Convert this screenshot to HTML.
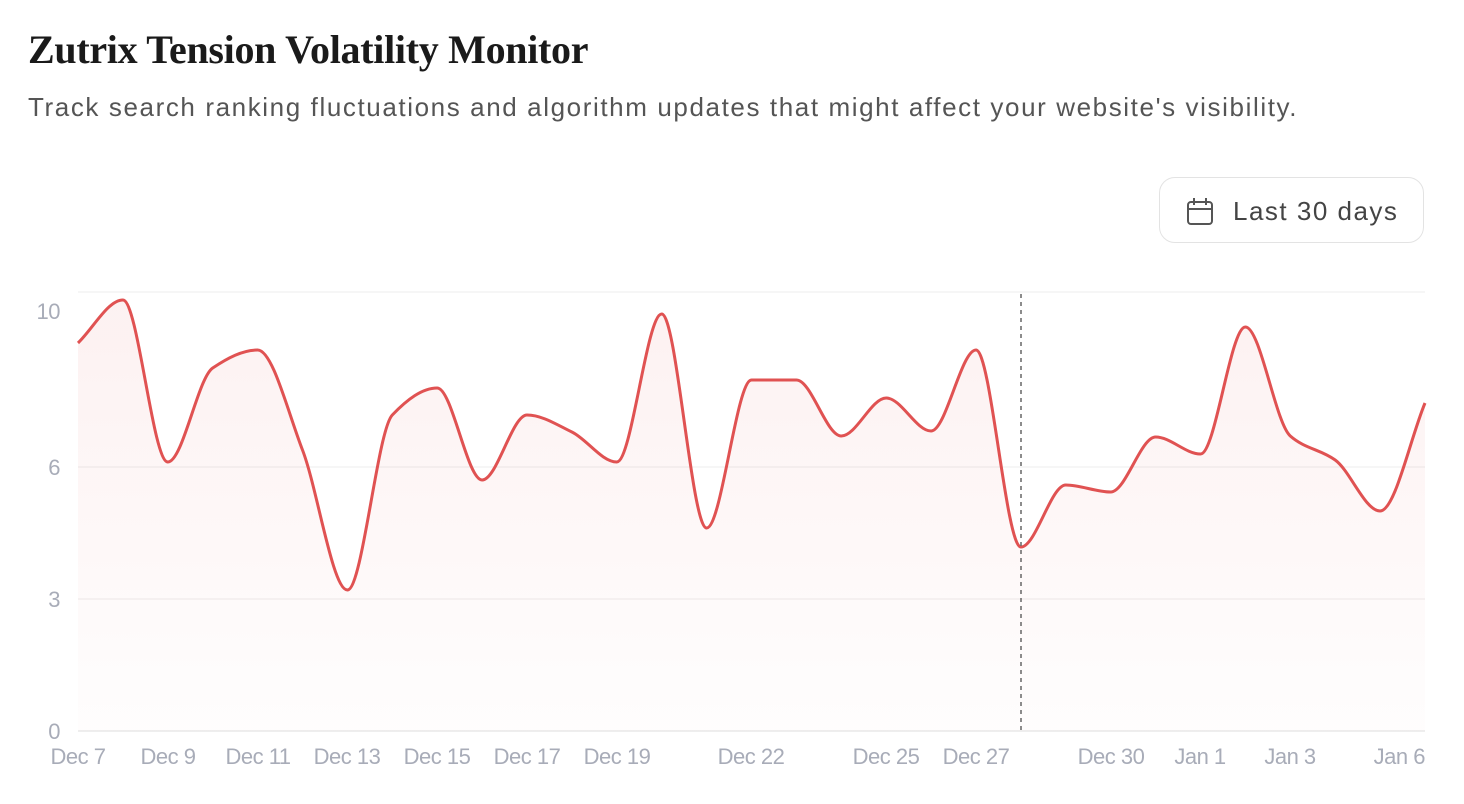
<!DOCTYPE html>
<html><head><meta charset="utf-8"><style>
html,body{margin:0;padding:0;background:#fff;width:1464px;height:804px;overflow:hidden}
.t{position:absolute;left:28px;top:26px;font-family:"Liberation Serif",serif;font-size:40px;font-weight:bold;color:#1a1a1a;letter-spacing:-0.3px}
.s{position:absolute;left:28px;top:92px;font-family:"Liberation Sans",sans-serif;font-size:26px;color:#555;letter-spacing:1.6px}
.b{position:absolute;left:1159px;top:177px;width:265px;height:66px;border:1.5px solid #e3e3e3;border-radius:16px;box-sizing:border-box;font-family:"Liberation Sans",sans-serif;font-size:26px;color:#444}
.b span{position:absolute;left:73px;top:18px;letter-spacing:1.5px}
svg{position:absolute;left:0;top:0}
</style></head><body>
<div class="t">Zutrix Tension Volatility Monitor</div>
<div class="s">Track search ranking fluctuations and algorithm updates that might affect your website's visibility.</div>
<div class="b"><svg width="30" height="30" style="left:25px;top:19px" viewBox="0 0 30 30"><rect x="3" y="5" width="24" height="22" rx="3" fill="none" stroke="#555" stroke-width="2"/><line x1="3" y1="12" x2="27" y2="12" stroke="#555" stroke-width="2"/><line x1="9" y1="1" x2="9" y2="8" stroke="#555" stroke-width="2"/><line x1="21" y1="1" x2="21" y2="8" stroke="#555" stroke-width="2"/></svg><span>Last 30 days</span></div>
<svg width="1464" height="804" id="c">
<defs><linearGradient id="g" x1="0" y1="0" x2="0" y2="1"><stop offset="0" stop-color="#e05252" stop-opacity="0.08"/><stop offset="1" stop-color="#e05252" stop-opacity="0.01"/></linearGradient></defs>
<g stroke="#ececec" stroke-width="1"><line x1="78" x2="1425" y1="292" y2="292"/><line x1="78" x2="1425" y1="467" y2="467"/><line x1="78" x2="1425" y1="599" y2="599"/><line x1="78" x2="1425" y1="731" y2="731" stroke="#ddd"/></g>
<g font-family="Liberation Sans,sans-serif" font-size="22" fill="#a8acb8" letter-spacing="-0.5">
<text x="60" y="319" text-anchor="end">10</text><text x="60" y="475" text-anchor="end">6</text><text x="60" y="607" text-anchor="end">3</text><text x="60" y="739" text-anchor="end">0</text>
<g text-anchor="middle"><text x="78" y="764">Dec 7</text><text x="168" y="764">Dec 9</text><text x="258" y="764">Dec 11</text><text x="347" y="764">Dec 13</text><text x="437" y="764">Dec 15</text><text x="527" y="764">Dec 17</text><text x="617" y="764">Dec 19</text><text x="751" y="764">Dec 22</text><text x="886" y="764">Dec 25</text><text x="976" y="764">Dec 27</text><text x="1111" y="764">Dec 30</text><text x="1200" y="764">Jan 1</text><text x="1290" y="764">Jan 3</text></g>
<text x="1425" y="764" text-anchor="end">Jan 6</text></g>
<path id="a" fill="url(#g)"/>
<path id="l" fill="none" stroke="#e05252" stroke-width="3"/>
<line x1="1021" x2="1021" y1="294" y2="731" stroke="#666" stroke-width="1.5" stroke-dasharray="4,4"/>
</svg>
<script>
var ys=[343,300,462,368,350,450,590,415,388,480,415,432,462,314,528,380,380,436,398,431,350,547,485,492,437,454,327,436,460,511,403];
var xs=ys.map((v,i)=>78+i*44.9);
var n=ys.length,m=[];
var d=[];for(var i=0;i<n-1;i++)d.push((ys[i+1]-ys[i])/(xs[i+1]-xs[i]));
for(var i=0;i<n;i++){if(i==0)m.push(d[0]);else if(i==n-1)m.push(d[n-2]);else{var a=d[i-1],b=d[i];if(a*b<=0)m.push(0);else m.push(2*a*b/(a+b));}}
var p="M"+xs[0]+","+ys[0];
for(var i=0;i<n-1;i++){var h=(xs[i+1]-xs[i])/3;p+="C"+(xs[i]+h)+","+(ys[i]+m[i]*h)+" "+(xs[i+1]-h)+","+(ys[i+1]-m[i+1]*h)+" "+xs[i+1]+","+ys[i+1];}
document.getElementById('l').setAttribute('d',p);
document.getElementById('a').setAttribute('d',p+"L"+xs[n-1]+",731L78,731Z");
</script>
</body></html>
